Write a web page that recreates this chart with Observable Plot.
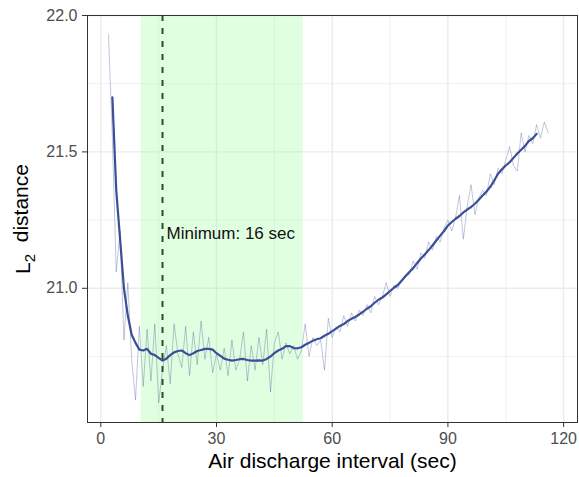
<!DOCTYPE html>
<html><head><meta charset="utf-8">
<script src="https://cdn.jsdelivr.net/npm/d3@7"></script>
<script src="https://cdn.jsdelivr.net/npm/@observablehq/plot@0.6"></script>
<style>body{margin:0;background:#fff;}</style>
</head><body><div id="chart"></div>
<script>
// Raw L2 distance per air discharge interval (sec)
const rawInterval = [2,3,4,5,6,7,8,9,10,11,12,13,14,15,16,17,18,19,20,21,22,23,24,25,26,27,28,29,30,31,32,33,34,35,36,37,38,39,40,41,42,43,44,45,46,47,48,49,50,51,52,53,54,55,56,57,58,59,60,61,62,63,64,65,66,67,68,69,70,71,72,73,74,75,76,77,78,79,80,81,82,83,84,85,86,87,88,89,90,91,92,93,94,95,96,97,98,99,100,101,102,103,104,105,106,107,108,109,110,111,112,113,114,115,116];
const rawDistance = [21.93,21.55,21.06,21.21,20.81,21.02,20.74,20.59,20.86,20.64,20.85,20.66,20.87,20.58,20.70,20.79,20.65,20.87,20.76,20.71,20.86,20.68,20.84,20.72,20.88,20.74,20.82,20.69,20.76,20.70,20.78,20.68,20.81,20.70,20.74,20.84,20.66,20.79,20.70,20.82,20.72,20.85,20.62,20.80,20.84,20.74,20.80,20.76,20.79,20.74,20.77,20.87,20.75,20.82,20.79,20.81,20.70,20.89,20.82,20.86,20.84,20.90,20.86,20.91,20.88,20.92,20.90,20.94,20.91,20.97,20.94,20.97,21.02,20.97,21.01,21.00,21.03,21.05,21.05,21.10,21.07,21.13,21.11,21.17,21.14,21.19,21.17,21.22,21.25,21.21,21.26,21.34,21.18,21.30,21.38,21.27,21.33,21.36,21.34,21.42,21.38,21.44,21.42,21.47,21.52,21.45,21.43,21.57,21.50,21.56,21.53,21.60,21.55,21.61,21.57];
// Smoothed curve
const smoothInterval = [3,4,5,6,7,8,9,10,11,12,13,14,15,16,17,18,19,20,21,22,23,24,25,26,27,28,29,30,31,32,33,34,35,36,37,38,39,40,41,42,43,44,45,46,47,48,49,50,51,52,53,54,55,56,57,58,59,60,61,62,63,64,65,66,67,68,69,70,71,72,73,74,75,76,77,78,79,80,81,82,83,84,85,86,87,88,89,90,91,92,93,94,95,96,97,98,99,100,101,102,103,104,105,106,107,108,109,110,111,112,113];
const smoothDistance = [21.70,21.36,21.18,21.00,20.90,20.83,20.80,20.775,20.772,20.778,20.76,20.755,20.745,20.735,20.742,20.755,20.765,20.77,20.772,20.762,20.755,20.762,20.77,20.774,20.778,20.778,20.775,20.762,20.752,20.742,20.738,20.735,20.737,20.74,20.741,20.737,20.735,20.735,20.736,20.735,20.741,20.75,20.762,20.772,20.778,20.788,20.788,20.781,20.78,20.784,20.793,20.80,20.808,20.813,20.817,20.826,20.833,20.843,20.852,20.862,20.869,20.88,20.888,20.895,20.904,20.914,20.925,20.934,20.947,20.958,20.966,20.978,20.99,21.002,21.012,21.028,21.044,21.06,21.074,21.092,21.109,21.124,21.14,21.157,21.175,21.193,21.21,21.23,21.243,21.255,21.265,21.278,21.288,21.298,21.31,21.325,21.34,21.355,21.372,21.395,21.42,21.436,21.45,21.462,21.478,21.494,21.508,21.522,21.54,21.55,21.566];

const xTicks = [0,30,60,90,120];
const xMinor = [15,45,75,105];
const yTicks = [21.0,21.5,22.0];
const yMinor = [20.75,21.25,21.75];
const bandStart = [10.5];
const bandEnd = [52.5];
const minimumInterval = [16];
const annotationY = [21.2];
const annotationText = ["Minimum: 16 sec"];
const xTitle = "Air discharge interval (sec)";
const yTitle = "L2 distance";

const raw = rawInterval.map((x,i)=>({x, y: rawDistance[i]}));
const smooth = smoothInterval.map((x,i)=>({x, y: smoothDistance[i]}));
const band = bandStart.map((s,i)=>({x1:s, x2:bandEnd[i]}));
const annot = annotationText.map((t,i)=>({x:minimumInterval[0], y:annotationY[i], t}));

const lineColor = "#3b4e96";
const font = "'Liberation Sans', Arial, Helvetica, sans-serif";

const chart = Plot.plot({
  width: 579, height: 477,
  marginLeft: 87, marginRight: 2, marginTop: 15, marginBottom: 55,
  style: {fontFamily: font, fontSize: "16px", background: "#fff", color: "#4d4d4d"},
  x: {domain: [-3.45, 123.6]},
  y: {domain: [20.508, 22.0]},
  marks: [
    Plot.ruleX(xMinor, {stroke: "#ebebeb", strokeWidth: 0.7}),
    Plot.ruleY(yMinor, {stroke: "#ebebeb", strokeWidth: 0.7}),
    Plot.ruleX(xTicks, {stroke: "#ebebeb", strokeWidth: 1.4}),
    Plot.ruleY(yTicks, {stroke: "#ebebeb", strokeWidth: 1.4}),
    Plot.rect(band, {x1: "x1", x2: "x2", fill: "palegreen", fillOpacity: 0.3}),
    Plot.line(raw, {x: "x", y: "y", stroke: lineColor, strokeOpacity: 0.32, strokeWidth: 1}),
    Plot.line(smooth, {x: "x", y: "y", stroke: lineColor, strokeWidth: 2.2}),
    Plot.ruleX(minimumInterval, {stroke: "#2c4a2c", strokeWidth: 2, strokeDasharray: "6,7"}),
    Plot.text(annot, {x: "x", y: "y", text: "t", textAnchor: "start", dx: 4, fontSize: 17, fill: "#111"}),
    Plot.frame({stroke: "#333", strokeWidth: 1}),
    Plot.axisX({ticks: xTicks, tickSize: 5, tickPadding: 5, label: null, stroke: "#333", fill: "#4d4d4d", fontSize: 16}),
    Plot.axisY({ticks: yTicks, tickSize: 5, tickPadding: 5, tickFormat: ".1f", label: null, stroke: "#333", fill: "#4d4d4d", fontSize: 16}),
    Plot.text([xTitle], {frameAnchor: "bottom", dy: 45, fontSize: 21, fill: "#000"}),
    Plot.text([yTitle], {frameAnchor: "left", textAnchor: "middle", dx: -64, rotate: -90, fontSize: 21, fill: "#000"})
  ]
});
document.getElementById("chart").appendChild(chart);

// turn the "2" of the y title into a subscript
d3.select(chart).selectAll("text").filter(function(){ return this.textContent === yTitle; }).each(function(){
  const t = d3.select(this);
  t.text(null);
  t.append("tspan").text("L");
  t.append("tspan").attr("font-size", "15px").attr("dy", "0.35em").text("2");
  t.append("tspan").attr("dy", "-0.35em").text("\u00a0 distance");
});
</script>
</body></html>
